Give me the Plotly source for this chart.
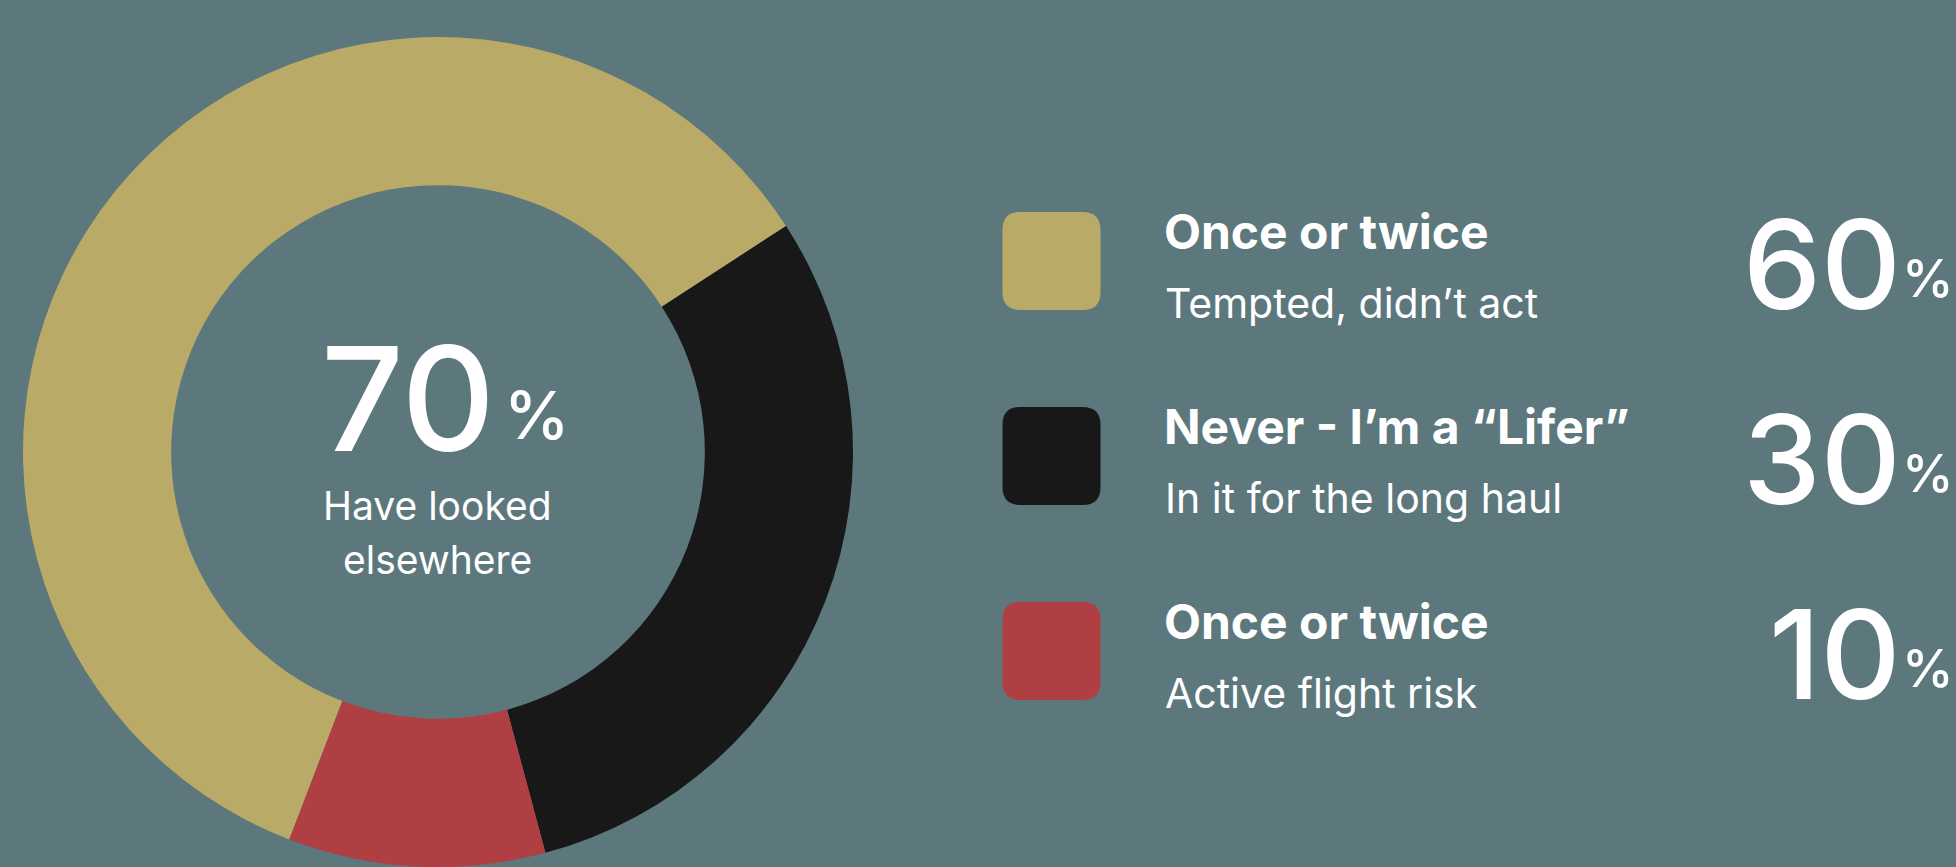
import plotly.graph_objects as go

# ---- data ----
titles = ["Once or twice", "Never - I’m a “Lifer”", "Once or twice"]
subtitles = ["Tempted, didn’t act", "In it for the long haul", "Active flight risk"]
values = [60, 30, 10]
colors = ["#b9ab67", "#181818", "#b03f43"]
headline_value = 70
headline_label = ["Have looked", "elsewhere"]

BG = "#5c787d"
W, H = 1956, 867
FONT = "Inter"

fig = go.Figure()

fig.add_trace(go.Pie(
    labels=[f"{t} – {s}" for t, s in zip(titles, subtitles)],
    values=values,
    marker=dict(colors=colors, line=dict(width=0)),
    hole=0.643,
    sort=False,
    direction="clockwise",
    rotation=201,
    textinfo="none",
    hoverinfo="label+percent",
    showlegend=False,
    domain=dict(x=[22.5 / W, 853.5 / W], y=[0, (H - 37) / H]),
))

annotations = []
shapes = []

def rounded_rect(x0, y0, x1, y1, r):
    return (f"M {x0+r},{y0} L {x1-r},{y0} Q {x1},{y0} {x1},{y0+r} "
            f"L {x1},{y1-r} Q {x1},{y1} {x1-r},{y1} L {x0+r},{y1} "
            f"Q {x0},{y1} {x0},{y1-r} L {x0},{y0+r} Q {x0},{y0} {x0+r},{y0} Z")

row0, step = 212, 195
for i, (t, s, v, c) in enumerate(zip(titles, subtitles, values, colors)):
    top = row0 + i * step
    shapes.append(dict(type="path", xref="x", yref="y",
                       path=rounded_rect(1002.5, top, 1100.5, top + 98, 18),
                       fillcolor=c, line=dict(width=0), layer="above"))
    annotations.append(dict(x=1162, y=top + 19, xref="x", yref="y", text=f"<b>{t}</b>",
                            xanchor="left", yanchor="middle", showarrow=False,
                            font=dict(family=FONT, size=48, color="white")))
    annotations.append(dict(x=1163, y=top + 91, xref="x", yref="y", text=s,
                            xanchor="left", yanchor="middle", showarrow=False,
                            font=dict(family=FONT, size=41, color="white")))
    annotations.append(dict(x=1903, y=top + 51.5, xref="x", yref="y", text=str(v),
                            xanchor="right", yanchor="middle", showarrow=False,
                            font=dict(family=FONT, size=124, color="white", weight=500)))
    annotations.append(dict(x=1956, y=top + 66, xref="x", yref="y", text="%",
                            xanchor="right", yanchor="middle", showarrow=False,
                            font=dict(family=FONT, size=52, color="white", weight=500)))

# centre text
annotations.append(dict(x=497, y=398.5, xref="x", yref="y", text=str(headline_value),
                        xanchor="right", yanchor="middle", showarrow=False,
                        font=dict(family=FONT, size=145, color="white", weight=500)))
annotations.append(dict(x=502, y=415, xref="x", yref="y", text="%",
                        xanchor="left", yanchor="middle", showarrow=False,
                        font=dict(family=FONT, size=66, color="white", weight=500)))
annotations.append(dict(x=437, y=505.5, xref="x", yref="y", text=headline_label[0],
                        xanchor="center", yanchor="middle", showarrow=False,
                        font=dict(family=FONT, size=39, color="white")))
annotations.append(dict(x=437, y=559.5, xref="x", yref="y", text=headline_label[1],
                        xanchor="center", yanchor="middle", showarrow=False,
                        font=dict(family=FONT, size=39, color="white")))

fig.update_layout(
    width=W, height=H,
    margin=dict(l=0, r=0, t=0, b=0),
    paper_bgcolor=BG, plot_bgcolor=BG,
    xaxis=dict(range=[0, W], visible=False, fixedrange=True, domain=[0, 1]),
    yaxis=dict(range=[H, 0], visible=False, fixedrange=True, domain=[0, 1]),
    annotations=annotations,
    shapes=shapes,
    showlegend=False,
)

fig.write_html("out.html", config=dict(displayModeBar=False),
               post_script="document.body.style.margin='0';document.body.style.overflow='hidden';")
